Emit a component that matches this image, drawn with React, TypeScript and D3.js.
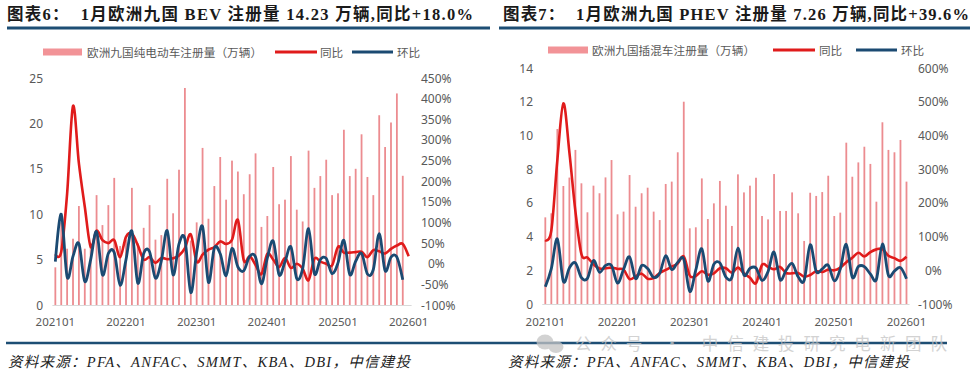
import React from "react";
import * as d3 from "d3";

// ---------- categories ----------
const months = [
  "202101","202102","202103","202104","202105","202106","202107","202108","202109","202110","202111","202112",
  "202201","202202","202203","202204","202205","202206","202207","202208","202209","202210","202211","202212",
  "202301","202302","202303","202304","202305","202306","202307","202308","202309","202310","202311","202312",
  "202401","202402","202403","202404","202405","202406","202407","202408","202409","202410","202411","202412",
  "202501","202502","202503","202504","202505","202506","202507","202508","202509","202510","202511","202512",
  "202601",
];
const xTickLabels = ["202101", "202201", "202301", "202401", "202501", "202601"];

// ---------- BEV (left chart) ----------
const bevLeftTicks = [0, 5, 10, 15, 20, 25];
const bevRightTicks = [-100, -50, 0, 50, 100, 150, 200, 250, 300, 350, 400, 450];
const bevVolume = [
  4.15, 9.1, 6.2, 7.3, 10.9, 6.2, 6.8, 12.1, 8.8, 11.0, 14.0, 6.5, 7.2, 12.9, 6.8, 8.5, 11.0, 7.2, 7.7, 13.9,
  10.1, 14.9, 23.9, 7.1, 9.1, 17.3, 9.5, 13.1, 16.3, 11.6, 15.9, 14.7, 12.2, 14.4, 16.7, 8.6, 9.8, 15.2, 11.1, 11.6,
  16.4, 10.5, 9.2, 17.0, 12.9, 14.2, 16.0, 12.1, 12.3, 19.3, 14.2, 15.0, 18.8, 14.1, 12.1, 20.9, 17.4, 20.1, 23.3, 14.23,
];
const bevYoY = [
  23, 29, 170, 382, 243, 138, 41, 80, 57, 50, 57, 16, 65, 73, 45, 10, 16, 2, 14, 11,
  13, 20, 38, 71, 5, 22, 34, 40, 54, 48, 58, 106, 8, 18, -3, -25, 24, 10, -8, 14,
  -10, 0, -12, -40, 12, 5, 0, -4, 41, 27, 27, 28, 29, 16, 33, 30, 25, 36, 44, 48, 18,
];
const bevMoM = [
  5, 120, -32, 18, 49, -43, 10, 78, -27, 25, 27, -52, 10, 79, -47, 25, 29, -35, 7, 80,
  -27, 48, 60, -70, 28, 90, -45, 38, 24, -29, 37, -8, -17, 18, 16, -49, 14, 55, -27, 5,
  41, -36, -12, 85, -24, 10, 13, -24, 2, 57, -26, 6, 25, -25, -14, 73, -17, 16, 16, -39,
];

// ---------- PHEV (right chart) ----------
const phevLeftTicks = [0, 2, 4, 6, 8, 10, 12, 14];
const phevRightTicks = [-100, 0, 100, 200, 300, 400, 500, 600];
const phevVolume = [
  5.14, 5.38, 10.38, 7.0, 7.5, 9.14, 7.16, 5.44, 7.02, 6.57, 7.51, 8.54, 5.32, 5.48, 7.65, 5.77, 6.57, 6.9, 5.48, 4.98,
  7.12, 7.26, 9.0, 12.0, 4.49, 4.55, 7.45, 5.04, 5.97, 7.3, 5.83, 4.63, 7.69, 6.62, 7.02, 7.49, 5.22, 5.02, 7.71, 5.52,
  5.52, 6.62, 5.38, 3.74, 6.6, 6.41, 6.64, 7.61, 5.22, 5.42, 9.57, 7.55, 8.4, 9.33, 8.31, 6.07, 10.78, 9.14, 9.0, 9.73, 7.26,
];
const phevYoY = [
  90, 118, 327, 495, 350, 175, 48, 38, 18, 5, 6, 8, 4, 2, -26, -18, -10, -25, -23, -8,
  1, 11, 20, 41, -16, -17, -3, -13, -9, 6, 6, -7, 8, -9, -22, -38, 16, 10, 3, 10,
  -8, -9, -8, -19, -14, -3, -5, 2, 0, 8, 24, 37, 52, 41, 54, 62, 63, 43, 36, 28, 40,
];
const phevMoM = [
  -49, 5, 93, -33, 7, 22, -22, -24, 29, -6, 14, 14, -38, 3, 40, -25, 14, 5, -21, -9,
  43, 2, 24, 33, -63, 1, 64, -32, 18, 22, -20, -21, 66, -14, 6, 7, -30, -4, 54, -28,
  0, 20, -19, -30, 76, -3, 4, 15, -31, 4, 77, -21, 11, 11, -11, -27, 78, -15, -2, 8, -25,
];

// ---------- texts ----------
const titles = [
  "图表6：  1月欧洲九国 BEV 注册量 14.23 万辆,同比+18.0%",
  "图表7：  1月欧洲九国 PHEV 注册量 7.26 万辆,同比+39.6%",
];
const legendBarNames = ["欧洲九国纯电动车注册量（万辆）", "欧洲九国插混车注册量（万辆）"];
const legendYoY = "同比";
const legendMoM = "环比";
const sourceText = "资料来源：PFA、ANFAC、SMMT、KBA、DBI，中信建投";
const watermark = "公众号 · 中信建投研究电新团队";

// ---------- styles ----------
const BAR = "#EC8C90";
const SWATCH = "#F29397";
const RED = "#E01B1B";
const BLUE = "#1B4A72";
const RULE = "#1D4E74";
const GRAY = "#595959";
const TITLE_FONT = '"Liberation Serif", "Noto Sans CJK SC", serif';
const SANS = '"Noto Sans", "Noto Sans CJK SC", sans-serif';
const CJK = '"Noto Sans CJK SC", sans-serif';

type PanelCfg = {
  title: string;
  titleX: number;
  titleLen: number;
  rule: [number, number];
  legendName: string;
  legendNameLen: number;
  swatch: [number, number];
  textX: number;
  redLeg: [number, number];
  yoyX: number;
  blueLeg: [number, number];
  momX: number;
  legendY: number;
  xRange: [number, number];
  yBase: number;
  yTop: number;
  leftDomain: [number, number];
  rightDomain: [number, number];
  leftTicks: number[];
  rightTicks: number[];
  leftLabelX: number;
  rightLabelX: number;
  volume: number[];
  yoy: number[];
  mom: number[];
};

function Panel({ c }: { c: PanelCfg }) {
  const x = d3.scaleBand<string>().domain(months).range(c.xRange).paddingInner(0).paddingOuter(0);
  const bw = x.bandwidth();
  const cx = (i: number) => (x(months[i]) as number) + bw / 2;
  const yL = d3.scaleLinear().domain(c.leftDomain).range([c.yBase, c.yTop]);
  const yR = d3.scaleLinear().domain(c.rightDomain).range([c.yBase, c.yTop]);
  const line = d3
    .line<number>()
    .x((_, i) => cx(i))
    .y((d) => yR(d))
    .curve(d3.curveCardinal.tension(0));

  return (
    <g>
      <text
        x={c.titleX}
        y={20}
        fontFamily={TITLE_FONT}
        fontWeight={700}
        fontSize={16.5}
        fill="#1a1a1a"
        textLength={c.titleLen}
        lengthAdjust="spacing"
        style={{ whiteSpace: "pre" }}
      >
        {c.title}
      </text>
      <line x1={c.rule[0]} x2={c.rule[1]} y1={28} y2={28} stroke={RULE} strokeWidth={3} />

      {/* legend */}
      <rect x={c.swatch[0]} y={c.legendY - 3.5} width={c.swatch[1] - c.swatch[0]} height={7} fill={SWATCH} />
      <text
        x={c.textX}
        y={c.legendY}
        dominantBaseline="central"
        fontFamily={CJK}
        fontSize={11.6}
        fill={GRAY}
        textLength={c.legendNameLen}
        lengthAdjust="spacing"
      >
        {c.legendName}
      </text>
      <line x1={c.redLeg[0]} x2={c.redLeg[1]} y1={c.legendY} y2={c.legendY} stroke={RED} strokeWidth={3} />
      <text x={c.yoyX} y={c.legendY} dominantBaseline="central" fontFamily={CJK} fontSize={11.6} fill={GRAY}>
        {legendYoY}
      </text>
      <line x1={c.blueLeg[0]} x2={c.blueLeg[1]} y1={c.legendY} y2={c.legendY} stroke={BLUE} strokeWidth={3} />
      <text x={c.momX} y={c.legendY} dominantBaseline="central" fontFamily={CJK} fontSize={11.6} fill={GRAY}>
        {legendMoM}
      </text>

      {/* axes labels */}
      {c.leftTicks.map((t) => (
        <text
          key={"l" + t}
          x={c.leftLabelX}
          y={yL(t)}
          dominantBaseline="central"
          textAnchor="end"
          fontFamily={SANS}
          fontSize={12}
          fill={GRAY}
        >
          {t}
        </text>
      ))}
      {c.rightTicks.map((t) => (
        <text
          key={"r" + t}
          x={c.rightLabelX + (t === 0 ? 7 : 0)}
          y={yR(t)}
          dominantBaseline="central"
          textAnchor="start"
          fontFamily={SANS}
          fontSize={12}
          fill={GRAY}
        >
          {t + "%"}
        </text>
      ))}
      {xTickLabels.map((m) => (
        <text
          key={"x" + m}
          x={(x(m) as number) + bw / 2}
          y={321}
          dominantBaseline="central"
          textAnchor="middle"
          fontFamily={SANS}
          fontSize={11.5}
          fill={GRAY}
        >
          {m}
        </text>
      ))}

      {/* bars */}
      {c.volume.map((v, i) => (
        <rect key={"b" + i} x={cx(i) - 0.9} width={1.8} y={yL(v)} height={c.yBase - yL(v)} fill={BAR} />
      ))}
      <line x1={c.xRange[0]} x2={c.xRange[1]} y1={c.yBase + 0.5} y2={c.yBase + 0.5} stroke="#D9D9D9" strokeWidth={1} />

      {/* lines */}
      <path d={line(c.yoy) || ""} fill="none" stroke={RED} strokeWidth={2.6} strokeLinejoin="round" />
      <path d={line(c.mom) || ""} fill="none" stroke={BLUE} strokeWidth={2.8} strokeLinejoin="round" />
    </g>
  );
}

const leftCfg: PanelCfg = {
  title: titles[0],
  titleX: 7,
  titleLen: 466,
  rule: [7, 490],
  legendName: legendBarNames[0],
  legendNameLen: 175,
  swatch: [43, 82],
  textX: 87,
  redLeg: [275, 317],
  yoyX: 320,
  blueLeg: [352, 393],
  momX: 397,
  legendY: 52,
  xRange: [52.4, 411.6],
  yBase: 305,
  yTop: 78,
  leftDomain: [0, 25],
  rightDomain: [-100, 450],
  leftTicks: bevLeftTicks,
  rightTicks: bevRightTicks,
  leftLabelX: 43,
  rightLabelX: 421,
  volume: bevVolume,
  yoy: bevYoY,
  mom: bevMoM,
};

const rightCfg: PanelCfg = {
  title: titles[1],
  titleX: 503,
  titleLen: 466,
  rule: [499, 970],
  legendName: legendBarNames[1],
  legendNameLen: 163,
  swatch: [548, 588],
  textX: 592,
  redLeg: [773, 815],
  yoyX: 819,
  blueLeg: [856, 897],
  momX: 901,
  legendY: 50,
  xRange: [542.3, 909.5],
  yBase: 304,
  yTop: 68,
  leftDomain: [0, 14],
  rightDomain: [-100, 600],
  leftTicks: phevLeftTicks,
  rightTicks: phevRightTicks,
  leftLabelX: 533,
  rightLabelX: 918,
  volume: phevVolume,
  yoy: phevYoY,
  mom: phevMoM,
};

export default function App() {
  return (
    <svg
      width={978}
      height={377}
      viewBox="0 0 978 377"
      style={{ position: "absolute", left: 0, top: 0, background: "#fff" }}
    >
      <rect width={978} height={377} fill="#fff" />
      <Panel c={leftCfg} />
      <Panel c={rightCfg} />

      {/* bottom rule + sources */}
      <line x1={6} x2={947} y1={343} y2={343} stroke={RULE} strokeWidth={2.5} />
      <text
        x={8}
        y={367}
        fontFamily={TITLE_FONT}
        fontStyle="italic"
        fontSize={14.5}
        fill="#222"
        textLength={402}
        lengthAdjust="spacing"
      >
        {sourceText}
      </text>
      <text
        x={508}
        y={367}
        fontFamily={TITLE_FONT}
        fontStyle="italic"
        fontSize={14.5}
        fill="#222"
        textLength={401}
        lengthAdjust="spacing"
      >
        {sourceText}
      </text>

      {/* watermark */}
      <g opacity={0.75} fill="#c4c4c4">
        <ellipse cx={545} cy={342} rx={8.5} ry={7.5} />
        <ellipse cx={556} cy={347} rx={7.5} ry={6} />
        <text x={575} y={350} fontFamily={CJK} fontSize={16.5} textLength={372} lengthAdjust="spacing">
          {watermark}
        </text>
      </g>
    </svg>
  );
}
